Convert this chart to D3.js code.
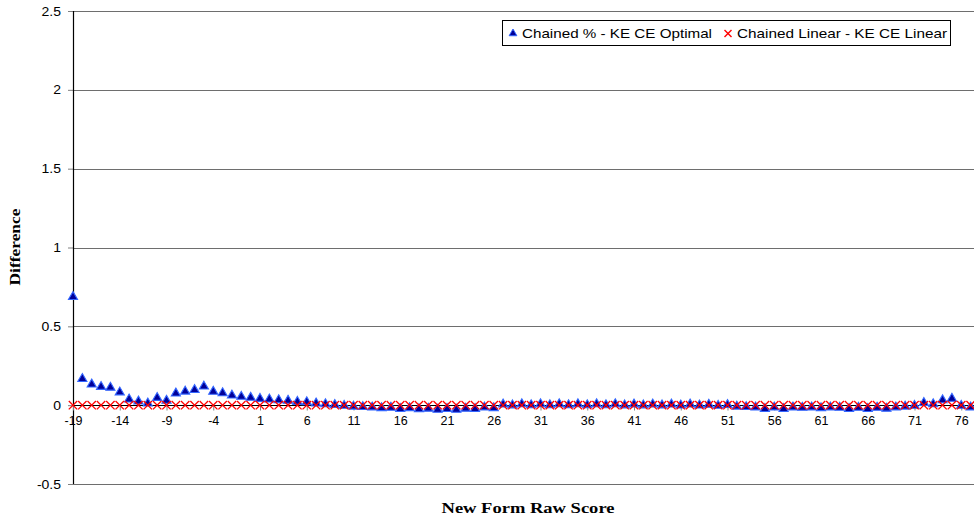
<!DOCTYPE html>
<html>
<head>
<meta charset="utf-8">
<script src="https://cdn.jsdelivr.net/npm/d3@7"></script>
<style>
  body { margin: 0; background: #fff; }
  svg { display: block; }
</style>
</head>
<body>
<svg id="chart" width="974" height="518"></svg>
<script>
// ---------- DATA ----------
const categories = d3.range(-19, 78); // -19 .. 77
const seriesNames = ["Chained % - KE CE Optimal", "Chained Linear - KE CE Linear"];
const chainedPct = [
  0.69, 0.17, 0.135, 0.12, 0.115, 0.085, 0.04, 0.027, 0.015, 0.05,      // -19 .. -10
  0.032, 0.078, 0.09, 0.10, 0.122, 0.089, 0.08, 0.065, 0.057, 0.051,    // -9 .. 0
  0.044, 0.04, 0.036, 0.032, 0.025, 0.023, 0.015, 0.01, 0.005, 0.0,     // 1 .. 10
  -0.005, -0.008, -0.01, -0.015, -0.012, -0.02, -0.015, -0.022, -0.018, -0.025, // 11 .. 20
  -0.02, -0.025, -0.018, -0.02, -0.01, -0.015, 0.008, 0.003, 0.01, 0.004,      // 21 .. 30
  0.01, 0.004, 0.01, 0.004, 0.01, 0.004, 0.01, 0.004, 0.01, 0.003,      // 31 .. 40
  0.009, 0.003, 0.009, 0.003, 0.008, 0.002, 0.008, 0.002, 0.007, 0.0,   // 41 .. 50
  0.005, -0.005, -0.008, -0.01, -0.02, -0.01, -0.02, -0.01, -0.012, -0.01, // 51 .. 60
  -0.015, -0.01, -0.012, -0.02, -0.012, -0.02, -0.012, -0.018, -0.01, -0.005, // 61 .. 70
  0.0, 0.018, 0.01, 0.035, 0.045, 0.0, -0.01                             // 71 .. 77
];
const chainedLinear = categories.map(() => 0);
const yTicks = [-0.5, 0, 0.5, 1, 1.5, 2, 2.5];
const xTickLabels = categories.filter(c => (c + 19) % 5 === 0);

(function () {
// ---------- LAYOUT ----------
const svg = d3.select("#chart");
const pL = 73, pR = 974, pT = 11, pB = 484;
const x = d3.scalePoint().domain(categories).range([pL, 970.6]);
const y = d3.scaleLinear().domain([-0.5, 2.5]).range([pB, pT]);
const font = "Arial, 'Liberation Sans', sans-serif";
const serif = "'Liberation Serif', 'Times New Roman', serif";

function stretch(sel, factor) {
  sel.each(function () {
    const w = this.getComputedTextLength();
    d3.select(this).attr("textLength", w * factor).attr("lengthAdjust", "spacingAndGlyphs");
  });
}

// y axis ticks + labels
const yAxis = d3.axisLeft(y).tickValues(yTicks).tickSize(5).tickPadding(7)
  .tickFormat(d => String(d));
const gy = svg.append("g").attr("transform", `translate(${pL},0)`).call(yAxis);
gy.select(".domain").remove();
gy.selectAll(".tick line").attr("stroke", "#808080");
gy.selectAll(".tick text").attr("font-family", font)
  .attr("font-size", 12.5).attr("fill", "#000").call(stretch, 1.12);

// gridlines
svg.append("g").selectAll("line").data(yTicks.filter(t => t !== 0)).join("line")
  .attr("x1", pL).attr("x2", pR)
  .attr("y1", d => Math.round(y(d)) + 0.5).attr("y2", d => Math.round(y(d)) + 0.5)
  .attr("stroke", "#6e6e6e").attr("stroke-width", 1.2);

// y axis line
svg.append("line").attr("x1", pL + 0.5).attr("x2", pL + 0.5)
  .attr("y1", pT).attr("y2", pB).attr("stroke", "#000").attr("stroke-width", 1.2);

// x axis at y = 0
const y0 = Math.round(y(0)) + 0.5;
const xAxis = d3.axisBottom(x).tickValues(xTickLabels).tickSize(5).tickPadding(6);
const gx = svg.append("g").attr("transform", `translate(0,${y0})`).call(xAxis);
gx.select(".domain").remove();
gx.selectAll(".tick line").attr("stroke", "#808080");
gx.selectAll(".tick text").attr("font-family", font)
  .attr("font-size", 12.5).attr("fill", "#000");
svg.append("line").attr("x1", pL).attr("x2", pR).attr("y1", y0).attr("y2", y0)
  .attr("stroke", "#000").attr("stroke-width", 1.2);

// ---------- MARKS ----------
const tri = d3.symbol().type(d3.symbolTriangle).size(36);
svg.append("g").selectAll("path").data(categories).join("path")
  .attr("d", tri)
  .attr("transform", (c, i) => `translate(${x(c)},${y(chainedPct[i]) + 0.5})`)
  .attr("fill", "#000099").attr("stroke", "#3366ff").attr("stroke-width", 1.1);

const xm = 4.2;
const gX = svg.append("g").selectAll("g").data(categories).join("g")
  .attr("transform", (c, i) => `translate(${x(c)},${y(chainedLinear[i])})`);
gX.append("line").attr("x1", -xm).attr("y1", -xm).attr("x2", xm).attr("y2", xm)
  .attr("stroke", "#ff0000").attr("stroke-width", 1.3);
gX.append("line").attr("x1", -xm).attr("y1", xm).attr("x2", xm).attr("y2", -xm)
  .attr("stroke", "#ff0000").attr("stroke-width", 1.3);

// ---------- LEGEND ----------
const lg = svg.append("g");
lg.append("rect").attr("x", 502.5).attr("y", 20.5).attr("width", 448).attr("height", 25)
  .attr("fill", "#fff").attr("stroke", "#000").attr("stroke-width", 1);
lg.append("path").attr("d", d3.symbol().type(d3.symbolTriangle).size(26)).attr("transform", "translate(513,33.5)")
  .attr("fill", "#000099").attr("stroke", "#3366ff").attr("stroke-width", 1);
lg.append("text").attr("x", 522).attr("y", 38).text(seriesNames[0])
  .attr("font-family", font).attr("font-size", 13)
  .attr("textLength", 190).attr("lengthAdjust", "spacingAndGlyphs");
const lx = 728, ly = 33.5, lm = 3.5;
lg.append("line").attr("x1", lx - lm).attr("y1", ly - lm).attr("x2", lx + lm).attr("y2", ly + lm)
  .attr("stroke", "#ff0000").attr("stroke-width", 1.4);
lg.append("line").attr("x1", lx - lm).attr("y1", ly + lm).attr("x2", lx + lm).attr("y2", ly - lm)
  .attr("stroke", "#ff0000").attr("stroke-width", 1.4);
lg.append("text").attr("x", 737).attr("y", 38).text(seriesNames[1])
  .attr("font-family", font).attr("font-size", 13)
  .attr("textLength", 210).attr("lengthAdjust", "spacingAndGlyphs");

// ---------- TITLES ----------
svg.append("text").attr("x", 528).attr("y", 513).attr("text-anchor", "middle")
  .attr("font-family", serif).attr("font-weight", "bold").attr("font-size", 15)
  .attr("textLength", 173).attr("lengthAdjust", "spacingAndGlyphs")
  .text("New Form Raw Score");
svg.append("text").attr("transform", "translate(20,247) rotate(-90)").attr("text-anchor", "middle")
  .attr("font-family", serif).attr("font-weight", "bold").attr("font-size", 14)
  .attr("textLength", 77).attr("lengthAdjust", "spacingAndGlyphs")
  .text("Difference");
})();
</script>
</body>
</html>
